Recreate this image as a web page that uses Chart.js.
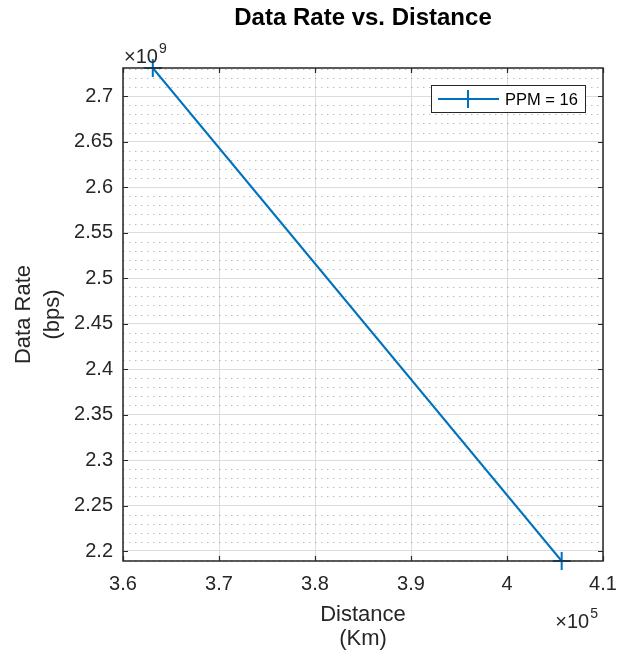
<!DOCTYPE html>
<html>
<head>
<meta charset="utf-8">
<script src="https://cdn.jsdelivr.net/npm/chart.js@4/dist/chart.umd.min.js"></script>
<style>
  html, body { margin: 0; padding: 0; background: #ffffff; }
  canvas { display: block; }
</style>
</head>
<body>
<canvas id="chart" width="625" height="658"></canvas>
<script>
// Earth–Moon link: data rate at perigee and apogee distance
const distanceKm = [363104, 405696];
const dataRateBps = [2.731e9, 2.189e9];
const seriesLabel = 'PPM = 16';
const chartTitle = 'Data Rate vs. Distance';

// Axis ticks (shown in units of the exponent factors)
const distanceTicks = [3.6, 3.7, 3.8, 3.9, 4.0, 4.1];                                  // ×10^5 km
const rateTicks = [2.2, 2.25, 2.3, 2.35, 2.4, 2.45, 2.5, 2.55, 2.6, 2.65, 2.7];        // ×10^9 bps
const distanceExp = 5;
const rateExp = 9;
const minorRateStep = 0.01;   // ×10^9, dotted minor grid

const FONT = '"Liberation Sans", Arial, Helvetica, sans-serif';
const INK = '#262626';
const LINE = '#0072BD';

function fmt(v) { return String(parseFloat(v.toFixed(4))); }

function drawExponent(ctx, exp, x, baseline, alignRight) {
  ctx.font = '20px ' + FONT;
  const w = ctx.measureText('\u00d710').width;
  ctx.font = '14px ' + FONT;
  const sw = ctx.measureText(String(exp)).width;
  const x0 = alignRight ? x - sw - 1 - w : x;
  ctx.font = '20px ' + FONT;
  ctx.fillText('\u00d710', x0, baseline);
  ctx.font = '14px ' + FONT;
  ctx.fillText(String(exp), x0 + w + 1, baseline - 10);
}

const framePlugin = {
  id: 'frame',
  beforeDatasetsDraw(chart) {
    const { ctx, chartArea: a, scales: { y } } = chart;
    const f = Math.pow(10, rateExp);
    ctx.save();
    ctx.strokeStyle = 'rgba(110,110,110,0.45)';
    ctx.lineWidth = 1;
    ctx.setLineDash([1.5, 4.5]);
    const lo = Math.ceil(y.min / f / minorRateStep - 1e-6);
    const hi = Math.floor(y.max / f / minorRateStep + 1e-6);
    for (let k = lo; k <= hi; k++) {
      if (k % 5 === 0) continue;
      const py = Math.round(y.getPixelForValue(k * minorRateStep * f)) + 0.5;
      ctx.beginPath();
      ctx.moveTo(a.left, py);
      ctx.lineTo(a.right, py);
      ctx.stroke();
    }
    ctx.restore();
  },
  afterDraw(chart) {
    const { ctx, chartArea: a, scales: { x, y } } = chart;
    ctx.save();

    // axes box
    ctx.strokeStyle = INK;
    ctx.lineWidth = 1.5;
    ctx.strokeRect(a.left, a.top, a.right - a.left, a.bottom - a.top);

    // inward tick marks on all four sides
    const tl = 5;
    ctx.lineWidth = 1.2;
    ctx.beginPath();
    x.ticks.forEach(t => {
      const px = Math.round(x.getPixelForValue(t.value)) + 0.5;
      ctx.moveTo(px, a.bottom); ctx.lineTo(px, a.bottom - tl);
      ctx.moveTo(px, a.top); ctx.lineTo(px, a.top + tl);
    });
    y.ticks.forEach(t => {
      const py = Math.round(y.getPixelForValue(t.value)) + 0.5;
      ctx.moveTo(a.left, py); ctx.lineTo(a.left + tl, py);
      ctx.moveTo(a.right, py); ctx.lineTo(a.right - tl, py);
    });
    ctx.stroke();

    // title centred over the plot box
    ctx.fillStyle = '#000000';
    ctx.font = 'bold 24px ' + FONT;
    ctx.textAlign = 'center';
    ctx.textBaseline = 'middle';
    ctx.fillText(chartTitle, (a.left + a.right) / 2, 18);

    // exponent factors
    ctx.fillStyle = INK;
    ctx.textBaseline = 'alphabetic';
    ctx.textAlign = 'left';
    drawExponent(ctx, rateExp, a.left + 1, a.top - 5, false);
    drawExponent(ctx, distanceExp, a.right - 5, a.bottom + 67, true);

    // legend
    const ds = chart.data.datasets[0];
    const bw = 154, bh = 27;
    const bx = a.right - 18 - bw, by = a.top + 17;
    ctx.fillStyle = '#ffffff';
    ctx.fillRect(bx, by, bw, bh);
    ctx.strokeStyle = INK;
    ctx.lineWidth = 1;
    ctx.strokeRect(bx + 0.5, by + 0.5, bw, bh);
    const ly = by + bh / 2 + 0.5;
    ctx.strokeStyle = ds.borderColor;
    ctx.lineWidth = ds.borderWidth;
    ctx.beginPath();
    ctx.moveTo(bx + 7, ly); ctx.lineTo(bx + 68, ly);
    ctx.stroke();
    ctx.lineWidth = ds.pointBorderWidth;
    const mx = bx + 37, r = ds.pointRadius;
    ctx.beginPath();
    ctx.moveTo(mx - r, ly); ctx.lineTo(mx + r, ly);
    ctx.moveTo(mx, ly - r); ctx.lineTo(mx, ly + r);
    ctx.stroke();
    ctx.fillStyle = '#000000';
    ctx.font = '16.5px ' + FONT;
    ctx.textBaseline = 'middle';
    ctx.fillText(ds.label, bx + 74, ly + 1);

    ctx.restore();
  }
};

new Chart(document.getElementById('chart'), {
  type: 'line',
  data: {
    datasets: [{
      label: seriesLabel,
      data: distanceKm.map((d, i) => ({ x: d, y: dataRateBps[i] })),
      borderColor: LINE,
      backgroundColor: LINE,
      borderWidth: 2,
      pointStyle: 'cross',
      pointRadius: 9,
      pointBorderWidth: 2,
      pointBorderColor: LINE,
      tension: 0,
      clip: false
    }]
  },
  options: {
    responsive: false,
    animation: false,
    devicePixelRatio: 1,
    layout: { padding: { left: 0, right: 22, top: 68, bottom: 0 } },
    plugins: {
      legend: { display: false },
      tooltip: { enabled: false },
      title: { display: false }
    },
    scales: {
      x: {
        type: 'linear',
        min: distanceTicks[0] * Math.pow(10, distanceExp),
        max: distanceTicks[distanceTicks.length - 1] * Math.pow(10, distanceExp),
        afterBuildTicks(s) { s.ticks = distanceTicks.map(v => ({ value: v * Math.pow(10, distanceExp) })); },
        afterFit(s) { s.height = 97; s.paddingLeft = 0; s.paddingRight = 0; },
        grid: { color: '#dcdcdc', lineWidth: 1, drawTicks: false },
        border: { display: false },
        ticks: {
          color: INK, padding: 11, maxRotation: 0,
          font: { family: FONT, size: 20 },
          callback: v => fmt(v / Math.pow(10, distanceExp))
        },
        title: {
          display: true,
          text: ['Distance', '(Km)'],
          color: INK,
          font: { family: FONT, size: 22, lineHeight: 1.1 },
          padding: { top: 0, bottom: 6.5 }
        }
      },
      y: {
        type: 'linear',
        min: Math.min(...dataRateBps),
        max: Math.max(...dataRateBps),
        afterBuildTicks(s) { s.ticks = rateTicks.map(v => ({ value: v * Math.pow(10, rateExp) })); },
        afterFit(s) { s.width = 123; s.paddingTop = 0; s.paddingBottom = 0; },
        grid: { color: '#dcdcdc', lineWidth: 1, drawTicks: false },
        border: { display: false },
        ticks: {
          color: INK, padding: 10,
          font: { family: FONT, size: 20 },
          callback: v => fmt(v / Math.pow(10, rateExp))
        },
        title: {
          display: true,
          text: ['Data Rate', '(bps)'],
          color: INK,
          font: { family: FONT, size: 22, lineHeight: 1.3 },
          padding: { top: 10, bottom: 0 }
        }
      }
    }
  },
  plugins: [framePlugin]
});
</script>
</body>
</html>
